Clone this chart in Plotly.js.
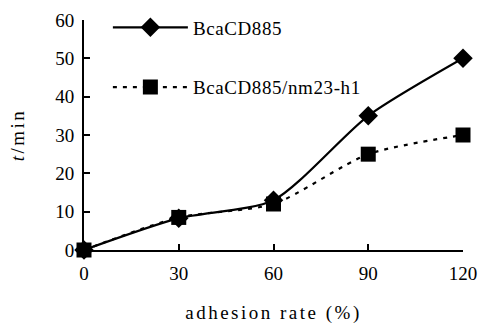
<!DOCTYPE html>
<html><head><meta charset="utf-8">
<script src="https://cdn.plot.ly/plotly-3.0.1.min.js"></script>
<style>
html,body{margin:0;padding:0;background:#fff}#c{width:480px;height:324px}
.xtitle,.ytitle{letter-spacing:2.5px}
.legendtext{letter-spacing:0.6px}
</style>
</head><body><div id="c"></div>
<script>
const xVals = [0, 30, 60, 90, 120];
const seriesA = [0, 8.3, 13, 35, 50];
const seriesB = [0, 8.5, 12, 25, 30];
const nameA = "BcaCD885";
const nameB = "BcaCD885/nm23-h1";
const xTicks = [0, 30, 60, 90, 120];
const yTicks = [0, 10, 20, 30, 40, 50, 60];

const serif = "Liberation Serif";

const traceA = {x: xVals, y: seriesA, name: nameA, mode: "lines+markers", legendgroup: "a", legendrank: 1,
   line: {color: "#000", width: 2.2, shape: "spline", smoothing: 0.7},
   marker: {symbol: "diamond", size: 15, color: "#000"}, cliponaxis: false};
const traceB = {x: xVals, y: seriesB, name: nameB, mode: "lines+markers", legendgroup: "b", legendrank: 2,
   line: {color: "#000", width: 2.2, dash: "4px,6px", shape: "spline", smoothing: 0.7},
   marker: {symbol: "square", size: 15, color: "#000"}, cliponaxis: false};

const layout = {
  width: 480, height: 324,
  font: {family: serif, size: 19, color: "#000"},
  margin: {l: 84, r: 17, t: 20, b: 74, autoexpand: false},
  paper_bgcolor: "#fff", plot_bgcolor: "#fff",
  showlegend: true,
  legend: {x: 0.063, y: 1.05, xanchor: "left", yanchor: "top", bgcolor: "rgba(0,0,0,0)",
           font: {family: serif, size: 19, color: "#000"}, itemwidth: 75,
           traceorder: "grouped", tracegroupgap: 32},
  xaxis: {range: [0, 120], tickvals: xTicks, ticktext: xTicks.map(String),
          showline: true, linecolor: "#000", linewidth: 2, showgrid: false, zeroline: false,
          ticks: "inside", ticklen: 6, tickwidth: 2, tickcolor: "#000", ticklabelstandoff: 5,
          tickfont: {family: serif, size: 19, color: "#000"},
          title: {text: "adhesion rate (%)", font: {family: serif, size: 19, color: "#000"}, standoff: 24}},
  yaxis: {range: [0, 60], tickvals: yTicks, ticktext: yTicks.map(String),
          showline: true, linecolor: "#000", linewidth: 2, showgrid: false, zeroline: false,
          ticks: "inside", ticklen: 6, tickwidth: 2, tickcolor: "#000", ticklabelstandoff: 4,
          tickfont: {family: serif, size: 19, color: "#000"},
          title: {text: "<i>t</i>/min", font: {family: serif, size: 19, color: "#000"}, standoff: 26}}
};
Plotly.newPlot("c", [traceA, traceB], layout, {displayModeBar: false, staticPlot: true});
</script></body></html>
